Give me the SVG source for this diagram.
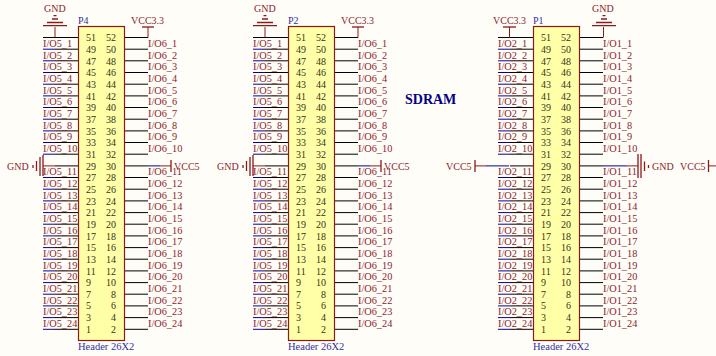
<svg xmlns="http://www.w3.org/2000/svg" width="716" height="356" viewBox="0 0 716 356">
<style>
text{font-family:"Liberation Serif","Times New Roman",serif;font-size:10px}
.n text{fill:#333320}
.r{text-anchor:end}
.l text{fill:#8b1c2a;font-size:10.3px}
.t{fill:#3030a0}
.h{fill:#3030a0;font-size:10.5px}
.box{fill:#ffffa8;stroke:#8b1a1a;stroke-width:1.2}
.w{stroke:#000;stroke-width:1;fill:none}
.b{stroke:#00009c;stroke-width:1;fill:none}
.p{stroke:#8b1a1a;stroke-width:1;fill:none}
.q{stroke:#8b1a1a;stroke-width:1.3;fill:none}
</style>
<defs>
<path id="pw" d="M43 37.5H78M124.5 37.5H148M55 49.2H78M124.5 49.2H148M55 60.8H78M124.5 60.8H148M55 72.5H78M124.5 72.5H148M55 84.2H78M124.5 84.2H148M55 95.9H78M124.5 95.9H148M55 107.5H78M124.5 107.5H148M55 119.2H78M124.5 119.2H148M55 130.9H78M124.5 130.9H148M55 142.5H78M124.5 142.5H148M55 154.2H78M124.5 154.2H148M55 165.9H78M124.5 165.9H148M55 177.5H78M124.5 177.5H148M55 189.2H78M124.5 189.2H148M55 200.9H78M124.5 200.9H148M55 212.6H78M124.5 212.6H148M55 224.2H78M124.5 224.2H148M55 235.9H78M124.5 235.9H148M55 247.6H78M124.5 247.6H148M55 259.2H78M124.5 259.2H148M55 270.9H78M124.5 270.9H148M55 282.6H78M124.5 282.6H148M55 294.2H78M124.5 294.2H148M55 305.9H78M124.5 305.9H148M55 317.6H78M124.5 317.6H148M55 329.3H78M124.5 329.3H148"/>
<path id="bw" d="M43 49.2H55M43 60.8H55M43 72.5H55M43 84.2H55M43 95.9H55M43 107.5H55M43 119.2H55M43 130.9H55M43 142.5H55M43 154.2H55M43 177.5H55M43 189.2H55M43 200.9H55M43 212.6H55M43 224.2H55M43 235.9H55M43 247.6H55M43 259.2H55M43 270.9H55M43 282.6H55M43 294.2H55M43 305.9H55M43 317.6H55M43 329.3H55"/>
</defs>
<rect width="716" height="356" fill="#fffdf8"/>
<g id="connectors">
<use href="#pw" class="w"/><use href="#bw" class="b"/>
<use href="#pw" class="w" x="210"/><use href="#bw" class="b" x="210"/>
<use href="#pw" class="w" x="455"/><use href="#bw" class="b" x="455"/>
<path class="b" d="M148 165.900H160M358 165.900H370M486 165.900H509M603 165.900H627"/>
<path class="p" d="M55 27V37.500M148 27V37.500M265 27V37.500M358 27V37.500M509.500 27V37.500M603.500 27V37.500M43 165.900H55M253 165.900H265M160 165.900H171M370 165.900H381M475 165.900H486M627 165.900H638M708 165.900H716"/>
</g>
<g id="sdram-title"><text x="405" y="104" style="font-size:14px;font-weight:bold;fill:#00008b">SDRAM</text></g>
<g id="gnd-p4-top"><path class="q" d="M43 25.700H67M47 22.500H63M52 19H58M53.500 15.700H56.500"/><text x="44" y="12" fill="#8b1c2a">GND</text></g>
<g id="vcc33-p4"><path class="q" d="M142 27H154"/><text x="131" y="24" fill="#8b1c2a">VCC3.3</text></g>
<g id="gnd-p4-left"><path class="q" d="M43 155V176M40 157V176M36.500 161V171M33 165V168"/><text x="7" y="170" fill="#8b1c2a">GND</text></g>
<g id="vcc5-p4"><path class="q" d="M171 160V172"/><text x="174" y="170" fill="#8b1c2a">VCC5</text></g>
<g id="gnd-p2-top"><path class="q" d="M253 25.700H277M257 22.500H273M262 19H268M263.500 15.700H266.500"/><text x="254" y="12" fill="#8b1c2a">GND</text></g>
<g id="vcc33-p2"><path class="q" d="M352 27H364"/><text x="341" y="24" fill="#8b1c2a">VCC3.3</text></g>
<g id="gnd-p2-left"><path class="q" d="M253 155V176M250 157V176M246.500 161V171M243 165V168"/><text x="217" y="170" fill="#8b1c2a">GND</text></g>
<g id="vcc5-p2"><path class="q" d="M381 160V172"/><text x="384" y="170" fill="#8b1c2a">VCC5</text></g>
<g id="vcc33-p1"><path class="q" d="M503 27H516"/><text x="493" y="24" fill="#8b1c2a">VCC3.3</text></g>
<g id="gnd-p1-top"><path class="q" d="M592 25.700H616M596 22.500H612M601 19H607M602.500 15.700H605.500"/><text x="592" y="12" fill="#8b1c2a">GND</text></g>
<g id="vcc5-p1"><path class="q" d="M475 160V172"/><text x="446" y="170" fill="#8b1c2a">VCC5</text></g>
<g id="gnd-p1-right"><path class="q" d="M638 154V178M641 154V178M644.500 161.500V171M648.500 165V168"/><text x="652" y="170" fill="#8b1c2a">GND</text></g>
<g id="vcc5-right"><path class="q" d="M708.500 160V172"/><text x="680" y="170" fill="#8b1c2a">VCC5</text></g>
<g id="P4"><rect class="box" x="78.500" y="26.500" width="46" height="314"/><text class="t" x="78" y="24">P4</text><text class="h" x="78" y="350">Header 26X2</text>
<g class="n"><text x="86" y="41">51</text><text class="r" x="116" y="41">52</text><text x="86" y="53">49</text><text class="r" x="116" y="53">50</text><text x="86" y="65">47</text><text class="r" x="116" y="65">48</text><text x="86" y="76">45</text><text class="r" x="116" y="76">46</text><text x="86" y="88">43</text><text class="r" x="116" y="88">44</text><text x="86" y="100">41</text><text class="r" x="116" y="100">42</text><text x="86" y="111">39</text><text class="r" x="116" y="111">40</text><text x="86" y="123">37</text><text class="r" x="116" y="123">38</text><text x="86" y="135">35</text><text class="r" x="116" y="135">36</text><text x="86" y="146">33</text><text class="r" x="116" y="146">34</text><text x="86" y="158">31</text><text class="r" x="116" y="158">32</text><text x="86" y="170">29</text><text class="r" x="116" y="170">30</text><text x="86" y="181">27</text><text class="r" x="116" y="181">28</text><text x="86" y="193">25</text><text class="r" x="116" y="193">26</text><text x="86" y="205">23</text><text class="r" x="116" y="205">24</text><text x="86" y="216">21</text><text class="r" x="116" y="216">22</text><text x="86" y="228">19</text><text class="r" x="116" y="228">20</text><text x="86" y="240">17</text><text class="r" x="116" y="240">18</text><text x="86" y="251">15</text><text class="r" x="116" y="251">16</text><text x="86" y="263">13</text><text class="r" x="116" y="263">14</text><text x="86" y="275">11</text><text class="r" x="116" y="275">12</text><text x="86" y="286">9</text><text class="r" x="116" y="286">10</text><text x="86" y="298">7</text><text class="r" x="116" y="298">8</text><text x="86" y="309">5</text><text class="r" x="116" y="309">6</text><text x="86" y="321">3</text><text class="r" x="116" y="321">4</text><text x="86" y="333">1</text><text class="r" x="116" y="333">2</text></g>
<g class="l"><text x="43" y="47">I/O5_1</text><text x="148" y="47">I/O6_1</text><text x="43" y="59">I/O5_2</text><text x="148" y="59">I/O6_2</text><text x="43" y="70">I/O5_3</text><text x="148" y="70">I/O6_3</text><text x="43" y="82">I/O5_4</text><text x="148" y="82">I/O6_4</text><text x="43" y="94">I/O5_5</text><text x="148" y="94">I/O6_5</text><text x="43" y="105">I/O5_6</text><text x="148" y="105">I/O6_6</text><text x="43" y="117">I/O5_7</text><text x="148" y="117">I/O6_7</text><text x="43" y="129">I/O5_8</text><text x="148" y="129">I/O6_8</text><text x="43" y="140">I/O5_9</text><text x="148" y="140">I/O6_9</text><text x="43" y="152">I/O5_10</text><text x="148" y="152">I/O6_10</text><text x="43" y="175">I/O5_11</text><text x="148" y="175">I/O6_11</text><text x="43" y="187">I/O5_12</text><text x="148" y="187">I/O6_12</text><text x="43" y="199">I/O5_13</text><text x="148" y="199">I/O6_13</text><text x="43" y="210">I/O5_14</text><text x="148" y="210">I/O6_14</text><text x="43" y="222">I/O5_15</text><text x="148" y="222">I/O6_15</text><text x="43" y="234">I/O5_16</text><text x="148" y="234">I/O6_16</text><text x="43" y="245">I/O5_17</text><text x="148" y="245">I/O6_17</text><text x="43" y="257">I/O5_18</text><text x="148" y="257">I/O6_18</text><text x="43" y="269">I/O5_19</text><text x="148" y="269">I/O6_19</text><text x="43" y="280">I/O5_20</text><text x="148" y="280">I/O6_20</text><text x="43" y="292">I/O5_21</text><text x="148" y="292">I/O6_21</text><text x="43" y="304">I/O5_22</text><text x="148" y="304">I/O6_22</text><text x="43" y="315">I/O5_23</text><text x="148" y="315">I/O6_23</text><text x="43" y="327">I/O5_24</text><text x="148" y="327">I/O6_24</text></g></g>
<g id="P2" transform="translate(210)"><rect class="box" x="78.500" y="26.500" width="46" height="314"/><text class="t" x="78" y="24">P2</text><text class="h" x="78" y="350">Header 26X2</text>
<g class="n"><text x="86" y="41">51</text><text class="r" x="116" y="41">52</text><text x="86" y="53">49</text><text class="r" x="116" y="53">50</text><text x="86" y="65">47</text><text class="r" x="116" y="65">48</text><text x="86" y="76">45</text><text class="r" x="116" y="76">46</text><text x="86" y="88">43</text><text class="r" x="116" y="88">44</text><text x="86" y="100">41</text><text class="r" x="116" y="100">42</text><text x="86" y="111">39</text><text class="r" x="116" y="111">40</text><text x="86" y="123">37</text><text class="r" x="116" y="123">38</text><text x="86" y="135">35</text><text class="r" x="116" y="135">36</text><text x="86" y="146">33</text><text class="r" x="116" y="146">34</text><text x="86" y="158">31</text><text class="r" x="116" y="158">32</text><text x="86" y="170">29</text><text class="r" x="116" y="170">30</text><text x="86" y="181">27</text><text class="r" x="116" y="181">28</text><text x="86" y="193">25</text><text class="r" x="116" y="193">26</text><text x="86" y="205">23</text><text class="r" x="116" y="205">24</text><text x="86" y="216">21</text><text class="r" x="116" y="216">22</text><text x="86" y="228">19</text><text class="r" x="116" y="228">20</text><text x="86" y="240">17</text><text class="r" x="116" y="240">18</text><text x="86" y="251">15</text><text class="r" x="116" y="251">16</text><text x="86" y="263">13</text><text class="r" x="116" y="263">14</text><text x="86" y="275">11</text><text class="r" x="116" y="275">12</text><text x="86" y="286">9</text><text class="r" x="116" y="286">10</text><text x="86" y="298">7</text><text class="r" x="116" y="298">8</text><text x="86" y="309">5</text><text class="r" x="116" y="309">6</text><text x="86" y="321">3</text><text class="r" x="116" y="321">4</text><text x="86" y="333">1</text><text class="r" x="116" y="333">2</text></g>
<g class="l"><text x="43" y="47">I/O5_1</text><text x="148" y="47">I/O6_1</text><text x="43" y="59">I/O5_2</text><text x="148" y="59">I/O6_2</text><text x="43" y="70">I/O5_3</text><text x="148" y="70">I/O6_3</text><text x="43" y="82">I/O5_4</text><text x="148" y="82">I/O6_4</text><text x="43" y="94">I/O5_5</text><text x="148" y="94">I/O6_5</text><text x="43" y="105">I/O5_6</text><text x="148" y="105">I/O6_6</text><text x="43" y="117">I/O5_7</text><text x="148" y="117">I/O6_7</text><text x="43" y="129">I/O5_8</text><text x="148" y="129">I/O6_8</text><text x="43" y="140">I/O5_9</text><text x="148" y="140">I/O6_9</text><text x="43" y="152">I/O5_10</text><text x="148" y="152">I/O6_10</text><text x="43" y="175">I/O5_11</text><text x="148" y="175">I/O6_11</text><text x="43" y="187">I/O5_12</text><text x="148" y="187">I/O6_12</text><text x="43" y="199">I/O5_13</text><text x="148" y="199">I/O6_13</text><text x="43" y="210">I/O5_14</text><text x="148" y="210">I/O6_14</text><text x="43" y="222">I/O5_15</text><text x="148" y="222">I/O6_15</text><text x="43" y="234">I/O5_16</text><text x="148" y="234">I/O6_16</text><text x="43" y="245">I/O5_17</text><text x="148" y="245">I/O6_17</text><text x="43" y="257">I/O5_18</text><text x="148" y="257">I/O6_18</text><text x="43" y="269">I/O5_19</text><text x="148" y="269">I/O6_19</text><text x="43" y="280">I/O5_20</text><text x="148" y="280">I/O6_20</text><text x="43" y="292">I/O5_21</text><text x="148" y="292">I/O6_21</text><text x="43" y="304">I/O5_22</text><text x="148" y="304">I/O6_22</text><text x="43" y="315">I/O5_23</text><text x="148" y="315">I/O6_23</text><text x="43" y="327">I/O5_24</text><text x="148" y="327">I/O6_24</text></g></g>
<g id="P1" transform="translate(455)"><rect class="box" x="78.500" y="26.500" width="46" height="314"/><text class="t" x="78" y="24">P1</text><text class="h" x="78" y="350">Header 26X2</text>
<g class="n"><text x="86" y="41">51</text><text class="r" x="116" y="41">52</text><text x="86" y="53">49</text><text class="r" x="116" y="53">50</text><text x="86" y="65">47</text><text class="r" x="116" y="65">48</text><text x="86" y="76">45</text><text class="r" x="116" y="76">46</text><text x="86" y="88">43</text><text class="r" x="116" y="88">44</text><text x="86" y="100">41</text><text class="r" x="116" y="100">42</text><text x="86" y="111">39</text><text class="r" x="116" y="111">40</text><text x="86" y="123">37</text><text class="r" x="116" y="123">38</text><text x="86" y="135">35</text><text class="r" x="116" y="135">36</text><text x="86" y="146">33</text><text class="r" x="116" y="146">34</text><text x="86" y="158">31</text><text class="r" x="116" y="158">32</text><text x="86" y="170">29</text><text class="r" x="116" y="170">30</text><text x="86" y="181">27</text><text class="r" x="116" y="181">28</text><text x="86" y="193">25</text><text class="r" x="116" y="193">26</text><text x="86" y="205">23</text><text class="r" x="116" y="205">24</text><text x="86" y="216">21</text><text class="r" x="116" y="216">22</text><text x="86" y="228">19</text><text class="r" x="116" y="228">20</text><text x="86" y="240">17</text><text class="r" x="116" y="240">18</text><text x="86" y="251">15</text><text class="r" x="116" y="251">16</text><text x="86" y="263">13</text><text class="r" x="116" y="263">14</text><text x="86" y="275">11</text><text class="r" x="116" y="275">12</text><text x="86" y="286">9</text><text class="r" x="116" y="286">10</text><text x="86" y="298">7</text><text class="r" x="116" y="298">8</text><text x="86" y="309">5</text><text class="r" x="116" y="309">6</text><text x="86" y="321">3</text><text class="r" x="116" y="321">4</text><text x="86" y="333">1</text><text class="r" x="116" y="333">2</text></g>
<g class="l"><text x="43" y="47">I/O2_1</text><text x="148" y="47">I/O1_1</text><text x="43" y="59">I/O2_2</text><text x="148" y="59">I/O1_2</text><text x="43" y="70">I/O2_3</text><text x="148" y="70">I/O1_3</text><text x="43" y="82">I/O2_4</text><text x="148" y="82">I/O1_4</text><text x="43" y="94">I/O2_5</text><text x="148" y="94">I/O1_5</text><text x="43" y="105">I/O2_6</text><text x="148" y="105">I/O1_6</text><text x="43" y="117">I/O2_7</text><text x="148" y="117">I/O1_7</text><text x="43" y="129">I/O2_8</text><text x="148" y="129">I/O1_8</text><text x="43" y="140">I/O2_9</text><text x="148" y="140">I/O1_9</text><text x="43" y="152">I/O2_10</text><text x="148" y="152">I/O1_10</text><text x="43" y="175">I/O2_11</text><text x="148" y="175">I/O1_11</text><text x="43" y="187">I/O2_12</text><text x="148" y="187">I/O1_12</text><text x="43" y="199">I/O2_13</text><text x="148" y="199">I/O1_13</text><text x="43" y="210">I/O2_14</text><text x="148" y="210">I/O1_14</text><text x="43" y="222">I/O2_15</text><text x="148" y="222">I/O1_15</text><text x="43" y="234">I/O2_16</text><text x="148" y="234">I/O1_16</text><text x="43" y="245">I/O2_17</text><text x="148" y="245">I/O1_17</text><text x="43" y="257">I/O2_18</text><text x="148" y="257">I/O1_18</text><text x="43" y="269">I/O2_19</text><text x="148" y="269">I/O1_19</text><text x="43" y="280">I/O2_20</text><text x="148" y="280">I/O1_20</text><text x="43" y="292">I/O2_21</text><text x="148" y="292">I/O1_21</text><text x="43" y="304">I/O2_22</text><text x="148" y="304">I/O1_22</text><text x="43" y="315">I/O2_23</text><text x="148" y="315">I/O1_23</text><text x="43" y="327">I/O2_24</text><text x="148" y="327">I/O1_24</text></g></g>
</svg>
